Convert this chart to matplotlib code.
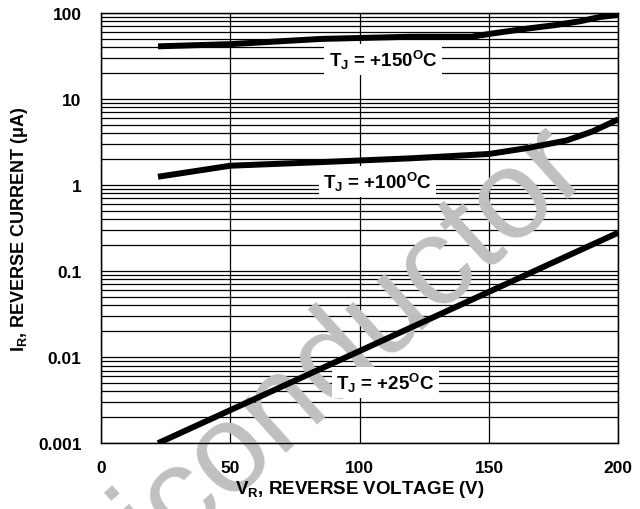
import matplotlib
matplotlib.use("Agg")
import matplotlib.pyplot as plt
from matplotlib.ticker import LogLocator, FixedLocator, NullFormatter

plt.rcParams['font.family'] = ['Liberation Sans', 'DejaVu Sans']
plt.rcParams['mathtext.fontset'] = 'custom'
plt.rcParams['mathtext.rm'] = 'Liberation Sans:bold'
plt.rcParams['mathtext.bf'] = 'Liberation Sans:bold'
plt.rcParams['mathtext.it'] = 'Liberation Sans:bold'
plt.rcParams['mathtext.default'] = 'bf'

# reverse current vs reverse voltage
vr_150 = [22, 50, 85, 120, 143, 155, 165, 175, 185, 193, 200]
ir_150 = [41, 43.5, 50, 53, 53, 60, 66, 72, 80, 90, 95]

vr_100 = [22, 50, 85, 120, 150, 165, 180, 190, 200]
ir_100 = [1.25, 1.68, 1.85, 2.05, 2.3, 2.7, 3.3, 4.2, 5.8]

vr_25 = [22, 100, 200]
ir_25 = [0.001, 0.0118, 0.28]

labels = ["T$_J$ = +150$^O$C", "T$_J$ = +100$^O$C", "T$_J$ = +25$^O$C"]
label_pos = [(109, 29), (107, 1.11), (110, 0.0051)]

fig = plt.figure(figsize=(6.4, 5.1), dpi=100)
rect = [0.158, 0.129, 0.808, 0.8435]

# bottom axes: grid only
axg = fig.add_axes(rect, zorder=0)
# top axes: curves, labels, ticks (transparent)
ax = fig.add_axes(rect, zorder=2)
ax.patch.set_alpha(0)

for a in (axg, ax):
    a.set_yscale('log')
    a.set_xlim(0, 200)
    a.set_ylim(0.001, 100)
    a.xaxis.set_major_locator(FixedLocator([0, 50, 100, 150, 200]))
    a.yaxis.set_minor_locator(LogLocator(base=10, subs=range(2, 10), numticks=20))
    a.yaxis.set_minor_formatter(NullFormatter())
    a.set_yticks([0.001, 0.01, 0.1, 1, 10, 100])
    a.tick_params(which='both', length=0)

axg.grid(True, which='major', axis='both', color='black', lw=0.9)
axg.grid(True, which='minor', axis='y', color='black', lw=0.9)
axg.set_xticklabels([])
axg.set_yticklabels([])

ax.set_yticklabels(['0.001', '0.01', '0.1', '1', '10', '100'])
ax.tick_params(which='both', labelsize=12.5)
ax.tick_params(axis='y', pad=14)
ax.tick_params(axis='x', pad=12)
for t in ax.get_xticklabels() + ax.get_yticklabels():
    t.set_fontweight('bold')
for s in ax.spines.values():
    s.set_linewidth(1.0)

# watermark, between grid and curves
fig.text(592, 338, "Semiconductor", transform=None, fontsize=91, color='#c0c0c0',
         rotation=42, rotation_mode='anchor', ha='right', va='baseline', zorder=1)

ax.plot(vr_150, ir_150, color='black', lw=4.3, solid_capstyle='butt')
ax.plot(vr_100, ir_100, color='black', lw=4.3, solid_capstyle='butt')
ax.plot(vr_25, ir_25, color='black', lw=4.3, solid_capstyle='butt')

for txt, (x, y) in zip(labels, label_pos):
    ax.text(x, y, txt, fontsize=13.5, fontweight='bold', ha='center', va='center',
            bbox=dict(facecolor='white', edgecolor='none', pad=3))

ax.set_xlabel("V$_R$, REVERSE VOLTAGE (V)", fontsize=13.5, fontweight='bold', labelpad=2)
ax.set_ylabel("I$_R$, REVERSE CURRENT ($\\mu$A)", fontsize=13, fontweight='bold', labelpad=6)

fig.savefig("out.png", dpi=100)
